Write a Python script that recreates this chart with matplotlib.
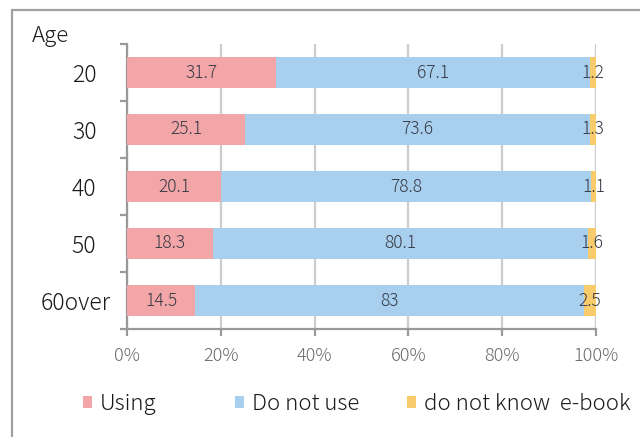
import matplotlib
matplotlib.use("Agg")
import matplotlib.pyplot as plt
from matplotlib.patches import Rectangle
from matplotlib.transforms import ScaledTranslation
import numpy as np

ages = ["20", "30", "40", "50", "60over"]
using = [31.7, 25.1, 20.1, 18.3, 14.5]
not_use = [67.1, 73.6, 78.8, 80.1, 83]
dont_know = [1.2, 1.3, 1.1, 1.6, 2.5]
series_names = ["Using", "Do not use", "do not know  e-book"]
x_ticks = [0, 20, 40, 60, 80, 100]
x_tick_labels = ["0%", "20%", "40%", "60%", "80%", "100%"]

colors = ["#F3A6A8", "#A9CFEF", "#F8CB6D"]
plt.rcParams["font.family"] = ["Noto Sans CJK JP", "DejaVu Sans"]
plt.rcParams["font.weight"] = "light"

fig = plt.figure(figsize=(6.4, 4.37), dpi=100)
ax = fig.add_axes([127 / 640, 1 - 329 / 437, (596 - 127) / 640, (329 - 44) / 437])

# outer frame
fig.patches.append(Rectangle((12 / 640, -0.1), 1.2, 1 - 10 / 437 + 0.1,
                             transform=fig.transFigure, fill=False,
                             edgecolor="#a0a0a0", linewidth=1.6, zorder=0))

y = np.arange(len(ages))
left = np.zeros(len(ages))
handles = []
for vals, col, name in zip([using, not_use, dont_know], colors, series_names):
    bc = ax.barh(y, vals, left=left, height=0.53, color=col, label=name, zorder=3)
    handles.append(bc)
    for yi, l, v in zip(y, left, vals):
        ax.text(l + v / 2, yi, f"{v:g}", ha="center", va="center",
                fontsize=12.5, color="#363b46", zorder=4)
    left = left + np.array(vals)

ax.set_xlim(0, 100)
ax.set_ylim(len(ages) - 0.5, -0.5)
ax.set_xticks(x_ticks)
ax.set_xticklabels(x_tick_labels, color="#6a6a6a", fontsize=13)
ax.set_yticks(y)
ax.set_yticklabels(ages, fontsize=16.5, color="#1a1a1a")
ax.set_yticks(np.arange(-0.5, len(ages)), minor=True)
ax.tick_params(axis="y", which="major", length=0, pad=22)
ax.tick_params(axis="y", which="minor", length=5, width=1.6, color="#999999")
ax.tick_params(axis="x", length=5, width=1.6, color="#999999", pad=8)

# the long age label sits a little further right than the short ones
lbl = ax.get_yticklabels()[-1]
lbl.set_transform(lbl.get_transform() + ScaledTranslation(10 / 72, 0, fig.dpi_scale_trans))

ax.grid(axis="x", color="#cccccc", linewidth=1.6, zorder=0)
for s in ["top", "right"]:
    ax.spines[s].set_visible(False)
for s in ["left", "bottom"]:
    ax.spines[s].set_color("#999999")
    ax.spines[s].set_linewidth(1.6)

fig.text(32 / 640, 1 - 36 / 437, "Age", fontsize=16, color="#1a1a1a",
         ha="left", va="center")

# one legend entry per slot along the bottom
legend_x = [83 / 640, 235 / 640, 407 / 640]
for h, name, lx in zip(handles, series_names, legend_x):
    leg = fig.legend([h], [name], loc="center left",
                     bbox_to_anchor=(lx, 1 - 404 / 437), frameon=False,
                     fontsize=16, handlelength=0.42, handleheight=0.42,
                     handletextpad=0.35, borderpad=0, borderaxespad=0)
    for t in leg.get_texts():
        t.set_color("#1a1a1a")

fig.savefig("out.png", dpi=100)
